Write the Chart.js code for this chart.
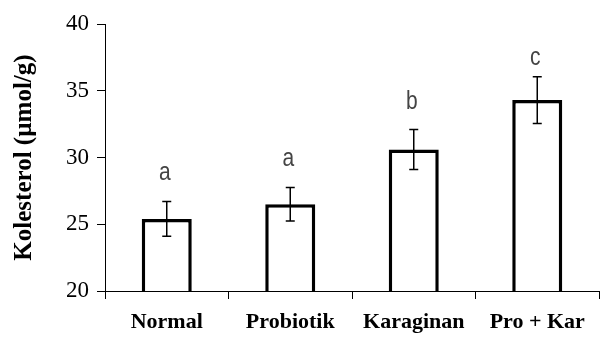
<!DOCTYPE html>
<html>
<head>
<meta charset="utf-8">
<script src="https://cdn.jsdelivr.net/npm/chart.js@4"></script>
<style>
  body { margin: 0; background: #fff; }
  .chart-box { width: 606px; height: 344px; }
</style>
</head>
<body>
<div class="chart-box"><canvas id="kolChart"></canvas></div>
<script>
const groups = ["Normal", "Probiotik", "Karaginan", "Pro + Kar"];
const means = [25.4, 26.5, 30.6, 34.3];
const errors = [1.3, 1.25, 1.5, 1.75];
const letters = ["a", "a", "b", "c"];
const letterLevels = [28.3, 29.4, 33.6, 36.9]; // baseline of each letter, in y units
const yTicks = [20, 25, 30, 35, 40];

// error bars + significance letters on top of bars
const errorBarPlugin = {
  id: "errorBars",
  afterDatasetsDraw(chart) {
    const ctx = chart.ctx;
    const meta = chart.getDatasetMeta(0);
    const y = chart.scales.y;
    ctx.save();
    meta.data.forEach((bar, i) => {
      const x = bar.x;
      const top = y.getPixelForValue(means[i] + errors[i]);
      const bot = y.getPixelForValue(means[i] - errors[i]);
      ctx.strokeStyle = "#000";
      ctx.lineWidth = 1.5;
      ctx.beginPath();
      ctx.moveTo(x, top); ctx.lineTo(x, bot);
      ctx.moveTo(x - 4.5, top); ctx.lineTo(x + 4.5, top);
      ctx.moveTo(x - 4.5, bot); ctx.lineTo(x + 4.5, bot);
      ctx.stroke();

      // letter, slightly stretched vertically like the original
      ctx.save();
      ctx.translate(x - 2, y.getPixelForValue(letterLevels[i]));
      ctx.scale(1, 1.2);
      ctx.fillStyle = "#444";
      ctx.font = "21px 'Liberation Sans'";
      ctx.textAlign = "center";
      ctx.textBaseline = "alphabetic";
      ctx.fillText(letters[i], 0, 0);
      ctx.restore();
    });
    ctx.restore();
  },
};

new Chart(document.getElementById("kolChart"), {
  type: "bar",
  data: {
    labels: groups,
    datasets: [
      {
        data: means,
        backgroundColor: "#fff",
        borderColor: "#000",
        borderWidth: 3.5,
        borderSkipped: false,
        categoryPercentage: 1,
        barPercentage: 0.405,
      },
    ],
  },
  options: {
    responsive: true,
    maintainAspectRatio: false,
    animation: false,
    layout: { padding: { top: 24, right: 7, left: 0, bottom: 0 } },
    plugins: {
      legend: { display: false },
      tooltip: { enabled: false },
    },
    scales: {
      x: {
        offset: true,
        grid: {
          offset: true,
          drawOnChartArea: false,
          tickLength: 8,
          color: "#000",
        },
        border: { color: "#000", width: 1 },
        ticks: {
          color: "#000",
          padding: 10,
          font: { family: "Liberation Serif", size: 22, weight: "bold" },
        },
        afterFit: (scale) => { scale.height = 53; },
      },
      y: {
        min: 20,
        max: 40,
        afterBuildTicks: (scale) => {
          scale.ticks = yTicks.map((v) => ({ value: v }));
        },
        grid: {
          drawOnChartArea: false,
          tickLength: 8,
          color: "#000",
        },
        border: { color: "#000", width: 1 },
        ticks: {
          color: "#000",
          padding: 8,
          font: { family: "Liberation Serif", size: 23 },
        },
        title: {
          display: true,
          text: "Kolesterol (µmol/g)",
          color: "#000",
          padding: { top: 10, bottom: 0 },
          font: { family: "Liberation Serif", size: 25, weight: "bold" },
        },
        afterFit: (scale) => { scale.width = 105; },
      },
    },
  },
  plugins: [errorBarPlugin],
});
</script>
</body>
</html>
